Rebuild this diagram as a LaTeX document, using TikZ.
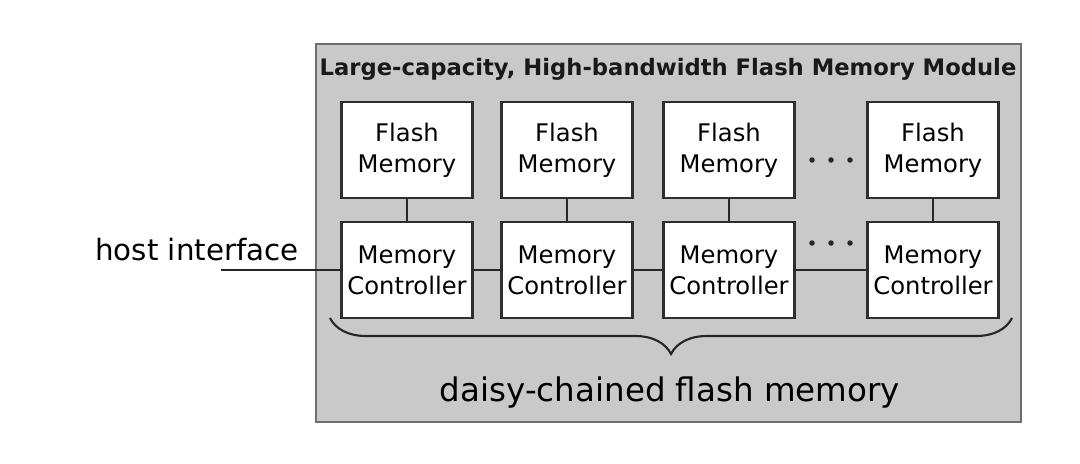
\documentclass[tikz,border=0pt]{standalone}
\usepackage{fontspec}
\setmainfont{DejaVu Sans}
\usetikzlibrary{positioning, decorations.pathreplacing}
\definecolor{modulegray}{HTML}{C9C9C9}
\definecolor{moduleedge}{HTML}{6E6E6E}
\definecolor{boxedge}{HTML}{2E2E2E}
\tikzstyle{module} = [rectangle, draw=moduleedge, fill=modulegray, line width=1.3pt]
\tikzstyle{unit} = [rectangle, minimum width=2.62cm, minimum height=1.92cm,
                    text centered, align=center, draw=boxedge, fill=white,
                    line width=1.3pt, inner sep=0pt, font=\fontsize{13.8}{17.5}\selectfont]
\tikzstyle{link} = [draw=black!85, line width=1.4pt]

\begin{document}
\begin{tikzpicture}
    \useasboundingbox (0,0) rectangle (21.6,-9.26);
    \draw[module] (6.32,-0.88) rectangle (20.42,-8.44);

    \node[font=\bfseries\fontsize{12.9}{15}\selectfont, text=black!90] (title) at (13.36,-1.38)
        {Large-capacity, High-bandwidth Flash Memory Module};

    \node[unit] (flash1) at (8.14,-3.0) {Flash\\Memory};
    \node[unit] (flash2) at (11.34,-3.0) {Flash\\Memory};
    \node[unit] (flash3) at (14.58,-3.0) {Flash\\Memory};
    \node[unit] (flash4) at (18.66,-3.0) {Flash\\Memory};

    \node[unit] (ctrl1) at (8.14,-5.4) {Memory\\Controller};
    \node[unit] (ctrl2) at (11.34,-5.4) {Memory\\Controller};
    \node[unit] (ctrl3) at (14.58,-5.4) {Memory\\Controller};
    \node[unit] (ctrl4) at (18.66,-5.4) {Memory\\Controller};

    \draw[link] (flash1) -- (ctrl1);
    \draw[link] (flash2) -- (ctrl2);
    \draw[link] (flash3) -- (ctrl3);
    \draw[link] (flash4) -- (ctrl4);

    \draw[link] (ctrl1) -- (ctrl2);
    \draw[link] (ctrl2) -- (ctrl3);
    \draw[link] (ctrl3) -- (ctrl4);

    % dots between the third and last column
    \foreach \y in {-3.2,-4.86}
        \foreach \x in {16.24,16.62,17.0}
            \fill[black!85] (\x,\y) circle (0.055);

    % host side
    \node[font=\fontsize{16.7}{20}\selectfont] (host) at (3.94,-5.0) {host interface};
    \coordinate (hostend) at (4.42,-5.4);
    \draw[link] (hostend) -- (ctrl1);

    % brace under the chain
    \coordinate (braceL) at (6.6,-6.36);
    \coordinate (braceR) at (20.24,-6.36);
    \draw[draw=black!85, line width=1.2pt, decorate,
          decoration={brace, mirror, amplitude=0.72cm}] (braceL) -- (braceR);
    \node[font=\fontsize{18.5}{22}\selectfont] (chain) at (13.4,-7.86)
        {daisy-chained flash memory};
\end{tikzpicture}
\end{document}
